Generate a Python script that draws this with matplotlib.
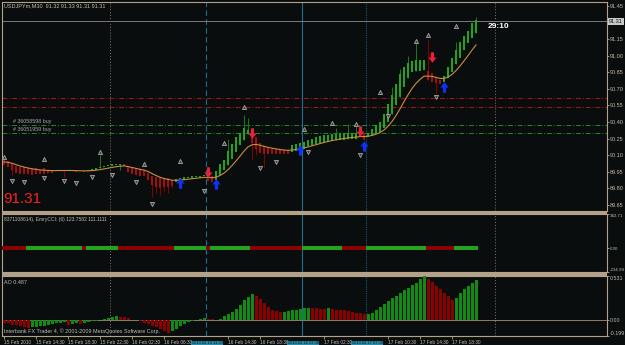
import matplotlib
matplotlib.use("Agg")
import matplotlib.pyplot as plt
import numpy as np
import pandas as pd
from matplotlib.path import Path
from matplotlib.patches import Rectangle

# ── data ──────────────────────────────────────────────────────────
ha_open = [90.07, 90.05, 90.03, 90.00, 89.99, 89.99, 89.98, 89.98, 89.98, 89.97,
           89.98, 89.97, 89.97, 89.97, 89.97, 89.965, 89.97, 89.965, 89.96, 89.96,
           89.96, 89.955, 89.96, 89.97, 89.98, 89.99, 90.00, 90.005, 90.01, 90.015,
           90.02, 90.00, 89.99, 89.985, 89.975, 89.97, 89.94, 89.91, 89.90, 89.89,
           89.89, 89.89, 89.88, 89.86, 89.87, 89.88, 89.89, 89.895, 89.90, 89.905,
           89.91, 89.925, 89.91, 89.88, 89.92, 89.97, 90.01, 90.07, 90.13, 90.19,
           90.24, 90.29, 90.31, 90.26, 90.21, 90.18, 90.17, 90.16, 90.16, 90.155,
           90.15, 90.15, 90.13, 90.14, 90.15, 90.16, 90.18, 90.19, 90.20, 90.21,
           90.22, 90.225, 90.23, 90.235, 90.24, 90.24, 90.245, 90.25, 90.25, 90.26,
           90.30, 90.26, 90.27, 90.29, 90.31, 90.35, 90.40, 90.47, 90.55, 90.63,
           90.72, 90.80, 90.85, 90.86, 90.86, 90.87, 90.86, 90.84, 90.80, 90.78,
           90.76, 90.80, 90.85, 90.92, 90.98, 91.05, 91.11, 91.16, 91.20]
ha_close = [90.01, 89.99, 89.97, 89.94, 89.93, 89.93, 89.93, 89.92, 89.93, 89.93,
            89.93, 89.94, 89.94, 89.955, 89.96, 89.955, 89.96, 89.955, 89.95, 89.955,
            89.95, 89.965, 89.975, 89.985, 89.995, 90.005, 90.015, 90.02, 90.025, 90.025,
            90.005, 89.95, 89.93, 89.92, 89.915, 89.91, 89.88, 89.83, 89.81, 89.80,
            89.81, 89.81, 89.82, 89.885, 89.895, 89.90, 89.905, 89.91, 89.915, 89.915,
            89.92, 89.87, 89.86, 89.96, 90.02, 90.06, 90.14, 90.20, 90.26, 90.30,
            90.35, 90.33, 90.21, 90.16, 90.12, 90.11, 90.11, 90.11, 90.11, 90.11,
            90.11, 90.115, 90.19, 90.20, 90.21, 90.22, 90.24, 90.25, 90.26, 90.27,
            90.28, 90.285, 90.29, 90.29, 90.30, 90.30, 90.30, 90.30, 90.30, 90.31,
            90.24, 90.30, 90.34, 90.37, 90.40, 90.47, 90.56, 90.64, 90.74, 90.83,
            90.90, 90.93, 90.95, 90.96, 90.96, 90.96, 90.78, 90.76, 90.75, 90.74,
            90.82, 90.90, 90.98, 91.05, 91.12, 91.18, 91.22, 91.29, 91.32]

wick_idx = [2, 15, 24, 29, 37, 38, 39, 40, 41, 42, 56, 60, 61, 62, 63, 65, 83, 86,
            88, 97, 99, 101, 103, 106, 108, 113, 118]
wick_hi = [90.03, 89.965, 90.10, 90.025, 89.91, 89.90, 89.89, 89.89, 89.89, 89.88,
           90.25, 90.46, 90.44, 90.31, 90.26, 90.18, 90.35, 90.38, 90.38, 90.72,
           90.88, 91.00, 91.11, 91.14, 90.80, 91.12, 91.35]
wick_lo = [89.92, 89.90, 89.98, 89.97, 89.72, 89.76, 89.74, 89.78, 89.76, 89.80,
           90.01, 90.24, 90.29, 90.06, 90.10, 89.99, 90.235, 90.245, 90.25, 90.47,
           90.63, 90.80, 90.86, 90.78, 90.66, 90.92, 91.20]

ao_values = [-0.04, -0.045, -0.06, -0.07, -0.08, -0.09, -0.10, -0.095, -0.09, -0.08,
             -0.075, -0.065, -0.055, -0.045, -0.038, -0.032, -0.06, -0.048, -0.042, -0.056,
             -0.042, -0.03, -0.02, -0.012, -0.005, 0.01, 0.022, 0.033, 0.04, 0.035,
             0.028, 0.015, 0.0, -0.01, -0.02, -0.035, -0.055, -0.075, -0.095, -0.115,
             -0.135, -0.16, -0.14, -0.112, -0.08, -0.052, -0.033, -0.018, -0.008, 0.012,
             0.018, 0.008, 0.002, 0.0, 0.012, 0.04, 0.068, 0.094, 0.13, 0.182,
             0.235, 0.273, 0.317, 0.282, 0.254, 0.203, 0.154, 0.122, 0.102, 0.094,
             0.099, 0.103, 0.113, 0.118, 0.13, 0.138, 0.141, 0.139, 0.136, 0.133,
             0.13, 0.136, 0.132, 0.122, 0.118, 0.113, 0.103, 0.094, 0.085, 0.075,
             0.066, 0.07, 0.085, 0.113, 0.15, 0.188, 0.226, 0.263, 0.291, 0.324,
             0.357, 0.385, 0.423, 0.451, 0.50, 0.531, 0.49, 0.46, 0.414, 0.376,
             0.329, 0.282, 0.245, 0.263, 0.32, 0.367, 0.404, 0.442, 0.487]

cci_colors = ["r", "g", "r", "g", "r", "g", "r", "g", "r", "g", "r", "g", "r", "g"]
cci_lengths = [6, 14, 1, 8, 14, 8, 1, 10, 13, 10, 6, 15, 7, 6]

frac_up_idx = [0, 10, 24, 35, 44, 55, 60, 75, 82, 88, 94, 103, 106, 113]
frac_up_px = [90.08, 90.07, 90.13, 90.02, 90.05, 90.21, 90.54, 90.34, 90.39, 90.38,
              90.67, 91.13, 91.19, 91.27]
frac_dn_idx = [2, 5, 10, 15, 18, 22, 27, 33, 37, 50, 64, 68, 76, 89, 96, 108]
frac_dn_px = [89.87, 89.86, 89.89, 89.87, 89.85, 89.90, 89.92, 89.86, 89.66, 89.78,
              89.98, 90.04, 90.13, 90.10, 90.45, 90.63]

buy_idx = [44, 53, 74, 90, 110]
buy_px = [89.85, 89.84, 90.15, 90.18, 90.72]
sell_idx = [51, 62, 89, 107]
sell_px = [89.95, 90.30, 90.32, 90.99]

red_levels = [90.62, 90.54]
order_levels = [90.37, 90.30]
order_names = ["# 36058598 buy", "# 36051959 buy"]
bid = 91.31

price_ticks = [89.65, 89.80, 89.95, 90.10, 90.25, 90.40, 90.55, 90.70, 90.85,
               91.00, 91.15, 91.45]
time_idx = [0, 8, 16, 24, 32, 40, 56, 64, 80, 96, 104, 112]
time_labels = ["15 Feb 2010", "15 Feb 14:30", "15 Feb 18:30", "15 Feb 22:30",
               "16 Feb 02:30", "16 Feb 06:30", "16 Feb 14:30", "16 Feb 18:30",
               "17 Feb 02:30", "17 Feb 10:30", "17 Feb 14:30", "17 Feb 18:30"]
vline_idx = [50.5, 74.5, 90.5]
vline_labels = ["2010.02.16 11:30", "2010.02.16 23:30", "2010.02.17 07:30"]

# ── style ─────────────────────────────────────────────────────────
BG = "#0a0d0e"
TAN = "#b3a287"
FG = "#c4bcae"
GREEN = "#22a322"
RED = "#a01010"
plt.rcParams["font.family"] = ["Liberation Sans", "DejaVu Sans"]

W, H = 625, 345
fig = plt.figure(figsize=(W / 100, H / 100), dpi=100)
fig.patch.set_facecolor(BG)


def px_axes(x0, y0, x1, y1):
    a = fig.add_axes([x0 / W, 1 - y1 / H, (x1 - x0) / W, (y1 - y0) / H])
    a.set_facecolor(BG)
    for s in a.spines.values():
        s.set_color(TAN)
        s.set_linewidth(0.8)
    a.set_xlim(-0.5, 150.75)
    return a


def right_ticks(a, vals, labels, fs=4.2):
    a.yaxis.tick_right()
    a.set_yticks(vals)
    a.set_yticklabels(labels)
    a.tick_params(axis="y", colors=TAN, labelcolor=FG, labelsize=fs,
                  length=1.5, pad=0.5, width=0.6)


def ftext(x, y, s, **kw):
    fig.text(x / W, 1 - y / H, s, **kw)


n = len(ha_close)
idx = np.arange(n)
o = np.array(ha_open)
c = np.array(ha_close)

# ── main window ───────────────────────────────────────────────────
ax = px_axes(2, 2, 607, 211)
ax.set_ylim(89.596, 91.484)
up = c >= o
w_up = np.array([c[i] >= o[i] for i in wick_idx])
ax.vlines(wick_idx, wick_lo, wick_hi, colors=np.where(w_up, "#1b7a1b", "#8b0000"),
          lw=0.7, zorder=2.5)
ax.bar(idx, np.abs(c - o), bottom=np.minimum(o, c), width=0.72,
       color=np.where(up, GREEN, RED), zorder=3)
mid = pd.Series((o + c) / 2)
ma = mid.ewm(span=8, adjust=False).mean()
ax.plot(idx, ma, color="#c98d3e", lw=0.8, zorder=4)

for lv in red_levels:
    ax.axhline(lv, color="#b01515", lw=0.7, ls=(0, (5, 2, 1, 2)), zorder=2)
for lv, name in zip(order_levels, order_names):
    ax.axhline(lv, color="#1f8f1f", lw=0.7, ls=(0, (5, 2, 1, 2)), zorder=2)
    ax.text(2.2, lv + 0.012, name, fontsize=3.8, color="#a8a8a8",
            va="bottom", ha="left", zorder=5)
ax.axhline(bid, color="#7a7a7a", lw=0.7, zorder=2)

ax.plot(frac_up_idx, frac_up_px, ls="none", marker="^", ms=3.0,
        mfc="#3a3a3a", mec="#a8a8a8", mew=0.6, zorder=5)
ax.plot(frac_dn_idx, frac_dn_px, ls="none", marker="v", ms=3.0,
        mfc="#3a3a3a", mec="#a8a8a8", mew=0.6, zorder=5)

arrow_up = Path([(-0.3, -1), (0.3, -1), (0.3, 0), (0.8, 0), (0, 1), (-0.8, 0),
                 (-0.3, 0), (-0.3, -1)], closed=True)
arrow_dn = Path([(-0.3, 1), (0.3, 1), (0.3, 0), (0.8, 0), (0, -1), (-0.8, 0),
                 (-0.3, 0), (-0.3, 1)], closed=True)
ax.plot(buy_idx, buy_px, ls="none", marker=arrow_up, ms=7.5, color="#1030ff",
        mec="none", zorder=6)
ax.plot(sell_idx, sell_px, ls="none", marker=arrow_dn, ms=7.5, color="#e8203a",
        mec="none", zorder=6)

ax.set_xticks([])
right_ticks(ax, price_ticks, [f"{t:.2f}" for t in price_ticks], fs=4.0)
ax.text(1.003, (bid - 89.596) / (91.484 - 89.596), f"{bid:.2f}",
        transform=ax.transAxes, fontsize=4.0, color="#111111",
        va="center", ha="left",
        bbox=dict(boxstyle="square,pad=0.15", fc="#c8c8c8", ec="none"))

ftext(4, 6, "USDJPYm,M30  91.32 91.33 91.31 91.31", fontsize=4.0,
      color=FG, va="center")
ftext(3, 199, "91.31", fontsize=11, color="#ff2020", va="center")
ftext(498, 27, "29:10", fontsize=6, color="white", fontweight="bold",
      va="center", ha="center")

# ── CCI window ────────────────────────────────────────────────────
ax2 = px_axes(2, 214, 607, 272)
ax2.set_ylim(-234.993, 342.7113)
cci_bar_colors = np.repeat([GREEN if k == "g" else "#8b0000" for k in cci_colors],
                           cci_lengths)
ax2.bar(np.arange(len(cci_bar_colors)), 40, bottom=-20, width=1.0,
        color=cci_bar_colors, zorder=3)
ax2.set_xticks([])
right_ticks(ax2, [342.7113, 0, -234.993], ["342.71", "0.00", "-234.99"], fs=3.2)
ylab2 = ax2.get_yticklabels()
ylab2[0].set_va("top")
ylab2[2].set_va("bottom")
ax2.text(0.004, 0.91, "8371108614), EmryCCI: (6) 123.7582 111.1111",
         transform=ax2.transAxes, fontsize=3.6, color=FG, va="center")

# ── AO window ─────────────────────────────────────────────────────
ax3 = px_axes(2, 276, 607, 336)
ax3.set_ylim(-0.199, 0.531)
ao = np.array(ao_values)
ao_up = np.r_[False, ao[1:] > ao[:-1]]
ax3.bar(np.arange(len(ao)), ao, width=0.75,
        color=np.where(ao_up, "#138a13", "#8b0000"), zorder=3)
ax3.axhline(0, color="#8c7d66", lw=0.7, zorder=2)
right_ticks(ax3, [0.531, 0, -0.199], ["0.531", "0.00", "-0.199"], fs=3.8)
ylab3 = ax3.get_yticklabels()
ylab3[0].set_va("top")
ylab3[2].set_va("bottom")
ax3.set_xticks(time_idx)
ax3.set_xticklabels(time_labels, ha="left")
ax3.tick_params(axis="x", colors=TAN, labelcolor=FG, labelsize=3.4, length=2,
                pad=1.2, width=0.6)
ax3.text(0.004, 0.9, "AO 0.487", transform=ax3.transAxes, fontsize=3.9,
         color=FG, va="center")
ax3.text(0.004, 0.08,
         "Interbank FX Trader 4, \u00a9 2001-2009 MetaQuotes Software Corp.",
         transform=ax3.transAxes, fontsize=3.9, color=FG, va="center")

# highlighted time labels of the vertical lines
for xi, lab in zip(vline_idx, vline_labels):
    ax3.annotate(lab, xy=(xi, 0), xycoords=("data", "axes fraction"),
                 xytext=(0.8, -5.0), textcoords="offset points", ha="center",
                 va="center", fontsize=2.9, color="#06181e",
                 bbox=dict(boxstyle="square,pad=0.1", fc="#2a8cad", ec="none"),
                 annotation_clip=False, zorder=10)

# vertical separators through all windows
for a in (ax, ax2, ax3):
    a.axvline(26.5, color="#8c7a5c", lw=0.7, ls=(0, (1, 2)), zorder=1)
    a.axvline(122.75, color="#8c7a5c", lw=0.7, ls=(0, (1, 2)), zorder=1)
    a.axvline(vline_idx[0], color="#1d6f8e", lw=0.8, ls=(0, (5, 3)), zorder=1)
    a.axvline(vline_idx[1], color="#1d6f8e", lw=0.8, zorder=1)
    a.axvline(vline_idx[2], color="#145a6a", lw=0.8, ls=(0, (1, 1)), zorder=1)

# window separator bars
for y0, h in ((211, 2.5), (272, 3.5)):
    fig.add_artist(Rectangle((2 / W, 1 - (y0 + h) / H), 605 / W, h / H,
                             transform=fig.transFigure, fc=TAN, ec="none"))

fig.savefig("out.png", dpi=100, facecolor=BG)
